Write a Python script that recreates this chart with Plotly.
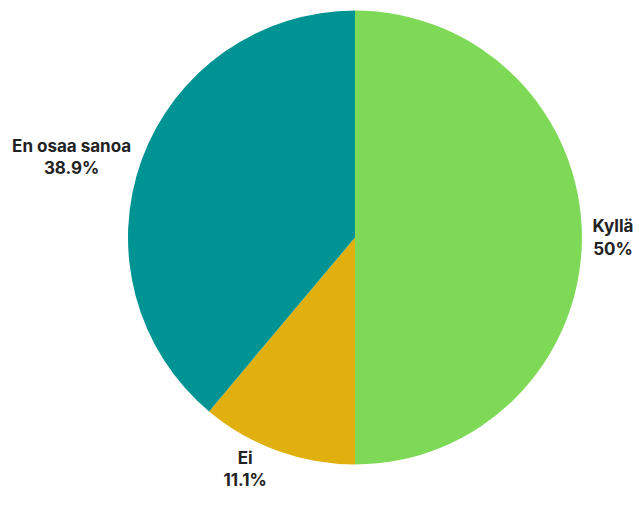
import plotly.graph_objects as go

# Survey answers (counts) and their slice colours
labels = ["Kyllä", "Ei", "En osaa sanoa"]
counts = [9, 2, 7]
colors = ["#7ed957", "#e0b00f", "#009393"]

fig = go.Figure(
    go.Pie(
        labels=labels,
        values=counts,
        marker=dict(colors=colors, line=dict(width=0)),
        sort=False,
        direction="clockwise",
        rotation=0,
        textposition="outside",
        texttemplate="%{label}<br>%{percent}",
        textfont=dict(family="Inter", size=17, color="#222222", weight=700),
        showlegend=False,
        hoverinfo="label+percent",
    )
)

fig.update_layout(
    width=638,
    height=506,
    margin=dict(l=128, r=44, t=6, b=38),
    paper_bgcolor="white",
    plot_bgcolor="white",
)

fig.write_html("out.html")
